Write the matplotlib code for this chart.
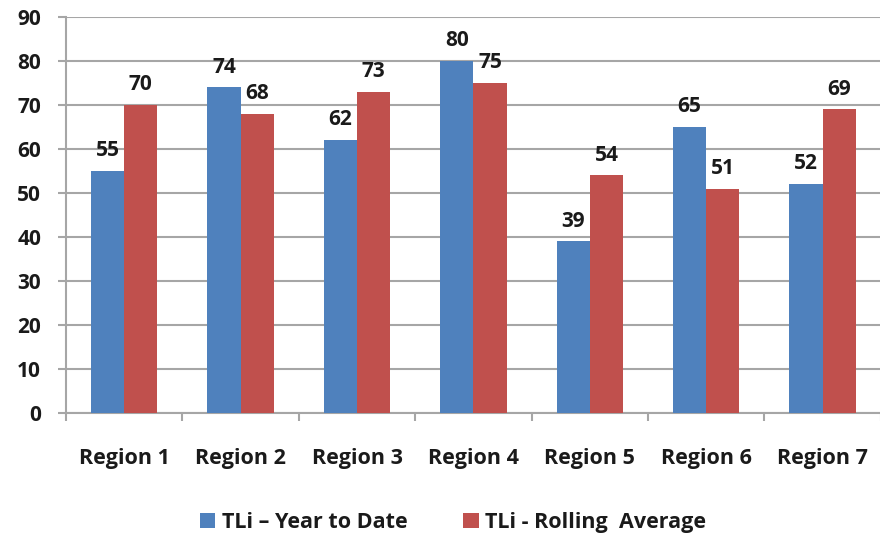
import matplotlib.pyplot as plt
import numpy as np

regions = ['Region 1', 'Region 2', 'Region 3', 'Region 4', 'Region 5', 'Region 6', 'Region 7']
year_to_date = [55, 74, 62, 80, 39, 65, 52]
rolling_avg = [70, 68, 73, 75, 54, 51, 69]
series_names = ['TLi \u2013 Year to Date', 'TLi - Rolling  Average']
y_ticks = list(range(0, 100, 10))

plt.rcParams['font.family'] = ['Open Sans', 'DejaVu Sans']
plt.rcParams['font.weight'] = 'bold'

fig = plt.figure(figsize=(8.8, 5.39), dpi=100)
ax = fig.add_axes([0.075, 0.2338, 0.926, 0.7347])

x = np.arange(len(regions))
w = 0.285
b1 = ax.bar(x - w / 2, year_to_date, w, color='#4F81BD', label=series_names[0], zorder=3)
b2 = ax.bar(x + w / 2, rolling_avg, w, color='#C0504D', label=series_names[1], zorder=3)

for bars in (b1, b2):
    for rect in bars:
        v = rect.get_height()
        ax.annotate(str(v), (rect.get_x() + rect.get_width() / 2, v),
                    xytext=(0, 7), textcoords='offset points',
                    ha='center', va='bottom', fontsize=15, fontweight='bold', color='#1a1a1a')

ax.set_xlim(-0.5, len(regions) - 0.5)
ax.set_ylim(0, 90)
ax.set_yticks(y_ticks)
ax.yaxis.grid(True, color='#a6a6a6', linewidth=1.5, zorder=0)

# category boundaries carry the x tick marks, labels sit at centres
ax.set_xticks(np.arange(len(regions) + 1) - 0.5)
ax.set_xticklabels([])
ax.set_xticks(x, minor=True)
ax.set_xticklabels(regions, minor=True)
ax.tick_params(axis='x', which='major', length=6, width=1.5, color='#a6a6a6', direction='out')
ax.tick_params(axis='x', which='minor', length=0, pad=25, labelsize=15.5, labelcolor='#1a1a1a')
ax.tick_params(axis='y', length=6, width=1.5, color='#a6a6a6', pad=12, labelsize=15, labelcolor='#1a1a1a')

for pos in ['right', 'top']:
    ax.spines[pos].set_visible(False)
for pos in ['left', 'bottom']:
    ax.spines[pos].set_color('#a6a6a6')
    ax.spines[pos].set_linewidth(1.5)

fig.legend(handles=[b1, b2], loc='center', bbox_to_anchor=(0.515, 0.03), ncol=2,
           frameon=False, fontsize=15.5, handlelength=0.7, handleheight=0.7,
           handletextpad=0.3, columnspacing=2.6, labelcolor='#1a1a1a')

fig.savefig('out.png', dpi=100)
